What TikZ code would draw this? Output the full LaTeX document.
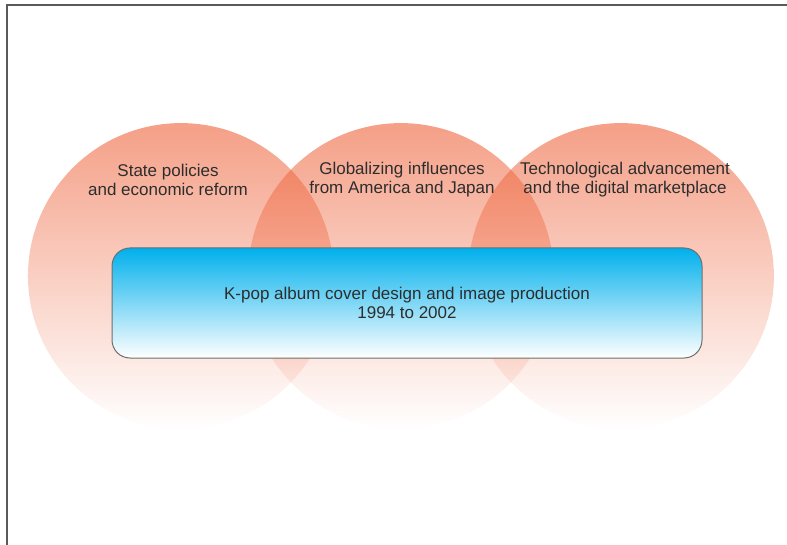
\documentclass[tikz,border=0pt]{standalone}
\usepackage{fontspec}
\setmainfont{Liberation Sans}
\usetikzlibrary{fadings}

\definecolor{salmon}{RGB}{238,100,60}
\definecolor{kblue}{RGB}{0,176,236}
\definecolor{framegray}{RGB}{90,90,90}
\definecolor{edgegray}{RGB}{110,110,110}
\definecolor{textgray}{RGB}{45,45,45}

% fade the circles out from top to bottom
\tikzfading[name=fade down, top color=transparent!0, bottom color=transparent!100]

\begin{document}
\begin{tikzpicture}[x=1pt, y=-1pt,
    every node/.style={font=\fontsize{17}{19}\selectfont, text=textgray, align=center},
    field/.style={fill=salmon, fill opacity=0.62, path fading=fade down},
    coverbox/.style={draw=edgegray, line width=1pt, rounded corners=18pt, top color=kblue, bottom color=white,
        minimum width=590pt, minimum height=110pt}]
    \useasboundingbox (0,0) rectangle (787,545);

    % Frame (top and left edge)
    \draw[framegray, line width=2pt] (7,545) -- (7,5) -- (787,5);

    % The three overlapping fields
    \foreach \cx in {181,401,621}
        \fill[field] (\cx,276) circle (153pt);

    % Field labels
    \node (state) at (168,179.5) {State policies\\and economic reform};
    \node (global) at (402,179.5) {Globalizing influences\\from America and Japan};
    \node (tech) at (625,179.5) {Technological advancement\\and the digital marketplace};

    % Central box
    \node[coverbox] (kpop) at (407,303) {K-pop album cover design and image production\\1994 to 2002};
\end{tikzpicture}
\end{document}
